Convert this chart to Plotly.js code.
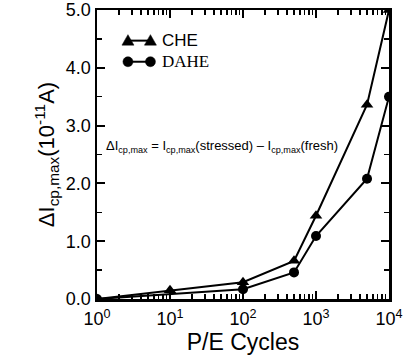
<!DOCTYPE html>
<html>
<head>
<meta charset="utf-8">
<script src="https://cdn.plot.ly/plotly-3.0.1.min.js"></script>
<style>
  html, body { margin: 0; padding: 0; background: #fff; }
  #chart { width: 405px; height: 358px; }
</style>
</head>
<body>
<div id="chart"></div>
<script>
// P/E cycle counts and the change in peak charge-pumping current (10^-11 A)
const cheCycles = [1, 10, 100, 500, 1000, 5000, 10000];
const cheDelta = [0.0, 0.15, 0.29, 0.66, 1.44, 3.36, 5.0];
const daheCycles = [1, 100, 500, 1000, 5000, 10000];
const daheDelta = [0.0, 0.17, 0.46, 1.09, 2.08, 3.50];

const seriesNames = ['CHE', 'DAHE'];

const xTickVals = [1, 10, 100, 1000, 10000];
const xTickText = ['10<sup>0</sup>', '10<sup>1</sup>', '10<sup>2</sup>', '10<sup>3</sup>', '10<sup>4</sup>'];
const yTickVals = [0, 1, 2, 3, 4, 5];
const yTickText = ['0.0', '1.0', '2.0', '3.0', '4.0', '5.0'];

// minor ticks at 2..9 within each decade
const xMinor = [];
for (let e = 0; e < 4; e++) {
  for (let d = 2; d <= 9; d++) xMinor.push(d * Math.pow(10, e));
}

const sans = 'Liberation Sans, Arial, sans-serif';
const serif = 'Liberation Serif, Times New Roman, serif';

const traces = [
  {
    x: cheCycles, y: cheDelta, name: seriesNames[0], type: 'scatter', mode: 'lines+markers',
    line: { color: '#000', width: 2 },
    marker: { symbol: 'triangle-up', size: 11, color: '#000' }
  },
  {
    x: daheCycles, y: daheDelta, name: seriesNames[1], type: 'scatter', mode: 'lines+markers',
    line: { color: '#000', width: 2 },
    marker: { symbol: 'circle', size: 10, color: '#000' }
  }
];

// Hand-built legend: a short line capped by a marker at each end, then the label
const legendRows = [
  { label: seriesNames[0], symbol: 'triangle', y: 0.894, font: sans },
  { label: seriesNames[1], symbol: 'circle', y: 0.821, font: serif }
];
const keyX0 = 0.106, keyX1 = 0.183, labelX = 0.215;

const shapes = [];
const annotations = [];
legendRows.forEach(row => {
  shapes.push({
    type: 'line', xref: 'paper', yref: 'paper',
    x0: keyX0, x1: keyX1, y0: row.y, y1: row.y,
    line: { color: '#000', width: 2 }
  });
  [keyX0, keyX1].forEach(kx => {
    if (row.symbol === 'triangle') {
      shapes.push({
        type: 'path', xref: 'paper', yref: 'paper',
        xsizemode: 'pixel', ysizemode: 'pixel', xanchor: kx, yanchor: row.y,
        path: 'M -6 -4.5 L 6 -4.5 L 0 6 Z',
        fillcolor: '#000', line: { color: '#000', width: 0.5 }
      });
    } else {
      shapes.push({
        type: 'circle', xref: 'paper', yref: 'paper',
        xsizemode: 'pixel', ysizemode: 'pixel', xanchor: kx, yanchor: row.y,
        x0: -5, x1: 5, y0: -5, y1: 5,
        fillcolor: '#000', line: { color: '#000', width: 0.5 }
      });
    }
  });
  annotations.push({
    xref: 'paper', yref: 'paper', x: labelX, y: row.y, xanchor: 'left', yanchor: 'middle',
    showarrow: false, text: row.label,
    font: { family: row.font, size: 17, color: '#000' }
  });
});

annotations.push({
  xref: 'paper', yref: 'paper', x: 0.024, y: 0.526, xanchor: 'left', yanchor: 'middle',
  showarrow: false,
  text: 'ΔI<sub>cp,max</sub> = I<sub>cp,max</sub>(stressed) – I<sub>cp,max</sub>(fresh)',
  font: { family: sans, size: 13, color: '#000' }
});

const layout = {
  width: 405, height: 358,
  margin: { l: 97, r: 16, t: 10, b: 59 },
  paper_bgcolor: '#fff', plot_bgcolor: '#fff',
  font: { family: sans, color: '#000', size: 15 },
  showlegend: false,
  xaxis: {
    type: 'log', range: [0, 4],
    tickmode: 'array', tickvals: xTickVals, ticktext: xTickText,
    ticks: 'inside', ticklen: 8, tickwidth: 2, tickcolor: '#000',
    minor: { tickmode: 'array', tickvals: xMinor, ticks: 'inside', ticklen: 5, tickwidth: 1.5, tickcolor: '#000' },
    showline: true, linecolor: '#000', linewidth: 2.5, mirror: 'ticks',
    showgrid: false, zeroline: false,
    tickfont: { family: sans, size: 18 },
    ticklabelstandoff: 2,
    title: { text: 'P/E Cycles', font: { family: sans, size: 23 }, standoff: 4 }
  },
  yaxis: {
    range: [0, 5],
    tickmode: 'array', tickvals: yTickVals, ticktext: yTickText,
    ticks: 'inside', ticklen: 8, tickwidth: 2, tickcolor: '#000',
    minor: { dtick: 0.5, ticks: 'inside', ticklen: 5, tickwidth: 1.5, tickcolor: '#000' },
    showline: true, linecolor: '#000', linewidth: 2.5, mirror: 'ticks',
    showgrid: false, zeroline: false,
    tickfont: { family: sans, size: 18 },
    title: { text: 'ΔI<sub>cp,max</sub>(10<sup>-11</sup>A)', font: { family: sans, size: 22 }, standoff: 5 }
  },
  shapes: shapes,
  annotations: annotations
};

Plotly.newPlot('chart', traces, layout, { displayModeBar: false, staticPlot: true });
</script>
</body>
</html>
